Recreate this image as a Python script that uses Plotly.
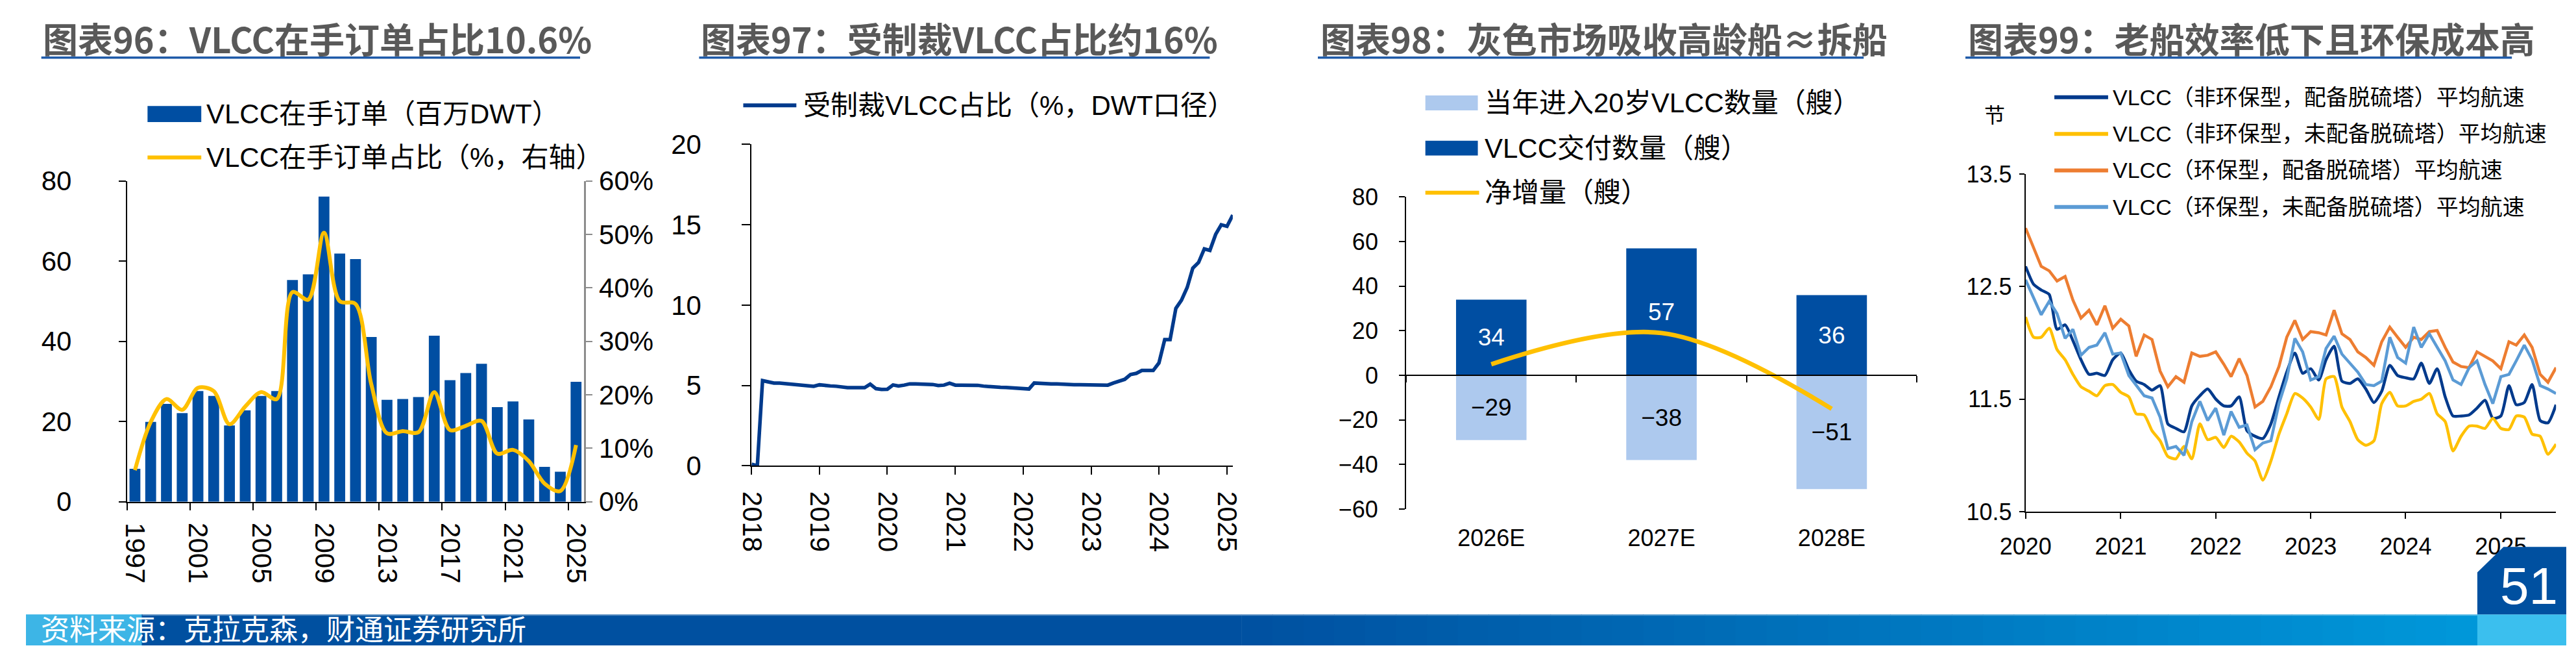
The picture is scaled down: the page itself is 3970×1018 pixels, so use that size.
import plotly.graph_objects as go
import pandas as pd

W, H = 3970, 1018
def X(px): return px / W
def Y(py): return 1 - py / H

NUM = "Liberation Sans, Arial, sans-serif"
MIX = "Liberation Sans, Noto Sans CJK SC, sans-serif"
TITLE = "Noto Sans CJK SC, sans-serif"

DARK = "#004EA2"
LIGHT = "#ADC9EE"
YEL = "#FFC000"
NAVY = "#003A8C"
ORANGE = "#ED7D31"
SKY = "#5B9BD5"
GRAY_T = "#595959"
ULINE = "#1F5BA9"

# ---------------- 图表96 ----------------
p96_years = [str(y) for y in range(1997, 2026)]
p96_orderbook_mdwt = [8.2, 19.9, 24.4, 22.1, 27.6, 26.4, 19.0, 22.8, 26.4, 27.6,
                      55.3, 56.7, 76.1, 61.9, 60.5, 41.1, 25.4, 25.6, 26.1, 41.4,
                      30.3, 32.1, 34.4, 23.6, 25.0, 20.5, 8.7, 7.5, 29.9]
p96_share_pct = [5.9, 14.9, 19.2, 17.2, 21.3, 20.7, 14.5, 17.8, 20.5, 19.2,
                 39.2, 37.8, 50.3, 37.5, 37.0, 22.0, 12.8, 13.2, 13.0, 20.5,
                 13.4, 14.2, 15.1, 9.0, 9.7, 7.6, 3.4, 2.0, 10.6]

# ---------------- 图表97 ----------------
p97_months = pd.date_range("2018-01-01", periods=86, freq="MS")
p97_sanctioned_pct = [0.1, 0.0, 5.3, 5.2, 5.15, 5.15, 5.12, 5.08, 5.04, 5.0,
                      4.95, 4.95, 5.04, 4.98, 4.97, 4.95, 4.9, 4.86, 4.86, 4.86,
                      4.86, 5.08, 4.8, 4.75, 4.76, 5.03, 4.97, 5.02, 5.1, 5.1,
                      5.1, 5.1, 5.06, 5.0, 5.02, 5.14, 5.02, 5.02, 5.02, 5.02,
                      5.01, 4.96, 4.92, 4.92, 4.88, 4.87, 4.84, 4.8, 4.77, 4.78,
                      5.15, 5.12, 5.1, 5.1, 5.1, 5.07, 5.05, 5.05, 5.05, 5.05,
                      5.04, 5.02, 5.0, 5.02, 5.15, 5.28, 5.38, 5.68, 5.75, 5.93,
                      5.94, 5.93, 6.4, 7.85, 7.85, 9.8, 10.3, 11.1, 12.3, 12.65,
                      13.5, 13.4, 14.4, 15.0, 14.9, 15.6]
p97_ticks = ["%d-01-01" % y for y in range(2018, 2026)]
p97_ticktext = [str(y) for y in range(2018, 2026)]

# ---------------- 图表98 ----------------
p98_years = ["2026E", "2027E", "2028E"]
p98_aged20 = [-29, -38, -51]
p98_delivered = [34, 57, 36]
p98_net = [5, 19, -15]

# ---------------- 图表99 ----------------
p99_months = pd.date_range("2020-01-01", periods=68, freq="MS")
p99_noneco_scrubber = [12.68, 12.52, 12.47, 12.43, 12.12, 12.16, 12.02, 11.85, 11.72, 11.73,
                       11.71, 11.85, 11.91, 11.76, 11.66, 11.63, 11.58, 11.62, 11.28, 11.24,
                       11.21, 11.44, 11.53, 11.59, 11.50, 11.44, 11.44, 11.52, 11.22, 11.17,
                       11.15, 11.28, 11.52, 11.74, 11.91, 11.73, 11.77, 11.67, 11.85, 11.97,
                       11.66, 11.64, 11.68, 11.59, 11.47, 11.57, 11.80, 11.71, 11.69, 11.68,
                       11.82, 11.64, 11.77, 11.52, 11.35, 11.35, 11.36, 11.42, 11.49, 11.33,
                       11.35, 11.62, 11.45, 11.47, 11.63, 11.31, 11.29, 11.45]
p99_noneco_noscrubber = [12.23, 12.05, 12.05, 12.13, 11.94, 11.85, 11.72, 11.61, 11.57, 11.53,
                         11.62, 11.63, 11.56, 11.52, 11.37, 11.36, 11.22, 11.13, 10.99, 10.97,
                         11.08, 10.97, 11.28, 11.14, 11.16, 11.07, 11.17, 11.12, 11.02, 10.95,
                         10.78, 10.95, 11.19, 11.37, 11.55, 11.51, 11.43, 11.32, 11.68, 11.70,
                         11.43, 11.30, 11.14, 11.09, 11.13, 11.46, 11.56, 11.44, 11.44, 11.48,
                         11.50, 11.55, 11.37, 11.30, 11.04, 11.17, 11.26, 11.26, 11.24, 11.33,
                         11.24, 11.23, 11.35, 11.34, 11.19, 11.17, 11.01, 11.10]
p99_eco_scrubber = [13.02, 12.85, 12.68, 12.64, 12.55, 12.59, 12.38, 12.22, 12.29, 12.16,
                    12.33, 12.13, 12.21, 12.15, 11.88, 12.07, 12.03, 11.75, 11.61, 11.70,
                    11.65, 11.91, 11.88, 11.89, 11.92, 11.81, 11.70, 11.86, 11.71, 11.43,
                    11.48, 11.61, 11.79, 12.05, 12.20, 12.03, 12.10, 12.09, 12.07, 12.29,
                    12.08, 12.03, 11.92, 11.87, 11.80, 12.01, 12.14, 12.05, 11.96, 12.05,
                    12.03, 12.10, 12.11, 11.96, 11.83, 11.79, 11.78, 11.92, 11.88, 11.84,
                    11.77, 12.01, 11.98, 12.07, 11.96, 11.72, 11.65, 11.78]
p99_eco_noscrubber = [12.56, 12.40, 12.25, 12.37, 12.26, 12.04, 12.12, 11.89, 11.96, 11.98,
                      12.09, 11.90, 11.91, 11.71, 11.62, 11.53, 11.51, 11.34, 11.06, 11.08,
                      11.00, 11.30, 11.48, 11.31, 11.42, 11.18, 11.39, 11.25, 11.27, 11.05,
                      11.11, 11.13, 11.46, 11.68, 12.04, 11.92, 11.67, 11.70, 11.95, 12.06,
                      11.90, 11.82, 11.74, 11.63, 11.62, 11.66, 12.05, 11.87, 11.82, 12.14,
                      11.96, 12.08, 11.96, 11.84, 11.67, 11.63, 11.78, 11.84, 11.63, 11.46,
                      11.70, 11.72, 11.84, 11.98, 11.85, 11.62, 11.59, 11.55]
p99_ticks = [10.5, 11.5, 12.5, 13.5]

fig = go.Figure()

# Panel 96
fig.add_bar(x=p96_years, y=p96_orderbook_mdwt, xaxis="x", yaxis="y",
            marker=dict(color=DARK, line=dict(width=0)), width=0.69,
            name="VLCC在手订单（百万DWT）", showlegend=False)
fig.add_scatter(x=p96_years, y=p96_share_pct, xaxis="x", yaxis="y2", mode="lines",
                line=dict(color=YEL, width=6, shape="spline", smoothing=0.9),
                name="VLCC在手订单占比（%，右轴）", showlegend=False)

# Panel 97
fig.add_scatter(x=p97_months, y=p97_sanctioned_pct, xaxis="x2", yaxis="y3", mode="lines",
                line=dict(color=NAVY, width=5.5), name="受制裁VLCC占比（%，DWT口径）",
                showlegend=False)

# Panel 98
fig.add_bar(x=p98_years, y=p98_aged20, xaxis="x3", yaxis="y4", width=0.414,
            marker=dict(color=LIGHT, line=dict(width=0)),
            texttemplate="%{y}", textposition="inside", insidetextanchor="middle",
            textangle=0, constraintext="none",
            textfont=dict(color="black", size=37, family=NUM),
            name="当年进入20岁VLCC数量（艘）", showlegend=False)
fig.add_bar(x=p98_years, y=p98_delivered, xaxis="x3", yaxis="y4", width=0.414,
            marker=dict(color=DARK, line=dict(width=0)),
            texttemplate="%{y}", textposition="inside", insidetextanchor="middle",
            textangle=0, constraintext="none",
            textfont=dict(color="white", size=37, family=NUM),
            name="VLCC交付数量（艘）", showlegend=False)
fig.add_scatter(x=p98_years, y=p98_net, xaxis="x4", yaxis="y4", mode="lines",
                line=dict(color=YEL, width=7, shape="spline", smoothing=1.0),
                name="净增量（艘）", showlegend=False)

# Panel 99
p99_series = [
    (p99_noneco_scrubber, NAVY, "spline", "VLCC（非环保型，配备脱硫塔）平均航速"),
    (p99_noneco_noscrubber, YEL, "spline", "VLCC（非环保型，未配备脱硫塔）平均航速"),
    (p99_eco_scrubber, ORANGE, "linear", "VLCC（环保型，配备脱硫塔）平均航速"),
    (p99_eco_noscrubber, SKY, "linear", "VLCC（环保型，未配备脱硫塔）平均航速"),
]
for vals, col, shp, nm in p99_series:
    fig.add_scatter(x=p99_months, y=vals, xaxis="x5", yaxis="y5", mode="lines",
                    line=dict(color=col, width=4.5, shape=shp, smoothing=0.6),
                    name=nm, showlegend=False)

axis_common = dict(showgrid=False, zeroline=False, showline=True, linecolor="black",
                   linewidth=2, ticks="outside", tickcolor="black", tickwidth=2)

fig.update_layout(
    width=W, height=H, autosize=False,
    margin=dict(l=0, r=0, t=0, b=0, pad=0),
    paper_bgcolor="white", plot_bgcolor="white",
    font=dict(family=NUM, color="black"),
    barmode="relative", showlegend=False,
    # Panel 96
    xaxis=dict(axis_common, domain=[X(158), X(872)], anchor="y", type="category",
               range=[-0.5, 28.5], tickmode="array", tickvals=p96_years[::4],
               tickson="boundaries", ticklen=11, tickangle=90,
               tickfont=dict(size=42, family=NUM), ticklabelstandoff=22),
    yaxis=dict(axis_common, domain=[Y(786), Y(268)], anchor="x", range=[0, 80], dtick=20,
               ticklen=11, tickfont=dict(size=42, family=NUM), ticklabelstandoff=64),
    yaxis2=dict(axis_common, overlaying="y", side="right", anchor="x", range=[0, 60],
                dtick=10, ticksuffix="%", linecolor="#8C8C8C", tickcolor="#8C8C8C",
                linewidth=2.5, ticklen=10, tickfont=dict(size=42, family=NUM),
                ticklabelstandoff=2),
    # Panel 97
    xaxis2=dict(axis_common, domain=[X(1134), X(1886)], anchor="y3", type="date",
                range=["2018-01-01", "2025-02-01"], tickmode="array",
                tickvals=p97_ticks, ticktext=p97_ticktext, tickangle=90, ticklen=12,
                tickfont=dict(size=42, family=NUM), ticklabelstandoff=17),
    yaxis3=dict(axis_common, domain=[Y(728), Y(209)], anchor="x2", range=[0, 20], dtick=5,
                ticklen=13, tickfont=dict(size=42, family=NUM), ticklabelstandoff=54),
    # Panel 98
    xaxis3=dict(domain=[X(2157), X(2955)], anchor="y4", type="category",
                range=[-0.5, 2.5], showline=False, showgrid=False, zeroline=False,
                ticks="", tickfont=dict(size=36, family=NUM), ticklabelstandoff=20),
    xaxis4=dict(axis_common, overlaying="x3", anchor="free", position=Y(582),
                type="category", range=[-0.5, 2.5], tickson="boundaries", ticklen=10,
                showticklabels=False),
    yaxis4=dict(axis_common, domain=[Y(798), Y(294)], anchor="x3", range=[-60, 80],
                dtick=20, ticklen=9, tickfont=dict(size=36, family=NUM),
                ticklabelstandoff=25),
    # Panel 99
    xaxis5=dict(axis_common, domain=[X(3125), X(3954)], anchor="y5", type="date",
                range=["2020-01-01", "2025-08-01"], dtick="M12", tick0="2020-01-01",
                tickformat="%Y", ticklen=9, tickfont=dict(size=36, family=NUM),
                ticklabelstandoff=12),
    yaxis5=dict(axis_common, domain=[Y(802), Y(257)], anchor="x5", range=[10.5, 13.5],
                tickmode="array", tickvals=p99_ticks, ticktext=[str(v) for v in p99_ticks],
                ticklen=8, tickfont=dict(size=36, family=NUM), ticklabelstandoff=4),
)

shapes = []
annotations = []

def rect(x0, y0, x1, y1, color):
    shapes.append(dict(type="rect", xref="paper", yref="paper", x0=X(x0), x1=X(x1),
                       y0=Y(y1), y1=Y(y0), fillcolor=color, line=dict(width=0),
                       layer="above"))

def hline(x0, x1, y, color, width):
    shapes.append(dict(type="line", xref="paper", yref="paper", x0=X(x0), x1=X(x1),
                       y0=Y(y), y1=Y(y), line=dict(color=color, width=width)))

def text(x, y, s, size, color="black", family=MIX, xanchor="left"):
    annotations.append(dict(xref="paper", yref="paper", x=X(x), y=Y(y), text=s,
                            showarrow=False, xanchor=xanchor, yanchor="middle",
                            font=dict(size=size, color=color, family=family),
                            borderpad=0))

# Titles with underline
titles = [
    (25, "图表96：VLCC在手订单占比10.6%", 24, 866),
    (1054, "图表97：受制裁VLCC占比约16%", 1052, 1850),
    (2022, "图表98：灰色市场吸收高龄船≈拆船", 2019, 2872),
    (3034, "图表99：老船效率低下且环保成本高", 3031, 3885),
]
for tx, tt, u0, u1 in titles:
    text(tx, 37, "<b>" + tt + "</b>", 54, GRAY_T, TITLE)
    hline(u0, u1, 69, ULINE, 3.5)

# Legend 96
rect(190, 147, 274, 173, DARK)
text(281, 160, "VLCC在手订单（百万DWT）", 42)
hline(190, 274, 230, YEL, 6)
text(281, 230, "VLCC在手订单占比（%，右轴）", 42)

# Legend 97
hline(1121, 1204, 146, NAVY, 6)
text(1214, 146, "受制裁VLCC占比（%，DWT口径）", 42)

# Legend 98
rect(2187, 130, 2269, 154, LIGHT)
text(2279, 142, "当年进入20岁VLCC数量（艘）", 42)
rect(2187, 203, 2269, 227, DARK)
text(2279, 215, "VLCC交付数量（艘）", 42)
hline(2187, 2271, 287, YEL, 6)
text(2279, 287, "净增量（艘）", 42)

# Legend 99
for i, (vals, col, shp, nm) in enumerate(p99_series):
    yy = 133 + i * 59
    hline(3170, 3254, yy, col, 6)
    text(3260, yy, nm, 34)
text(3077, 163, "节", 32, "black", MIX, xanchor="center")

# Bottom banner
rect(0, 968, 182, 1018, "#3DB5E6")
rect(181, 968, 1900, 1018, "#0050A0")
n = 40
c0 = (0, 80, 160)
c1 = (0, 152, 218)
span = (3831 - 1900) / n
for k in range(n):
    t = (k + 0.5) / n
    col = "rgb(%d,%d,%d)" % tuple(round(a + (b - a) * t) for a, b in zip(c0, c1))
    rect(1900 + k * span - 0.5, 968, 1900 + (k + 1) * span + 0.5, 1018, col)
rect(3831, 968, 3970, 1018, "#3BBFEE")
hline(182, 3831, 969, "rgba(255,255,255,0.35)", 2)
shapes.append(dict(type="path", xref="paper", yref="paper",
                   path="M %f,%f L %f,%f L %f,%f L %f,%f L %f,%f Z" % (
                       X(3831), Y(968), X(3831), Y(900), X(3872), Y(859),
                       X(3970), Y(859), X(3970), Y(968)),
                   fillcolor="#0050A0", line=dict(width=0)))
text(22, 993, "资料来源：克拉克森，财通证券研究所", 44, "white", MIX)
text(3912, 922, "51", 80, "white", NUM, xanchor="center")

fig.update_layout(shapes=shapes, annotations=annotations)
fig.write_html("out.html")
